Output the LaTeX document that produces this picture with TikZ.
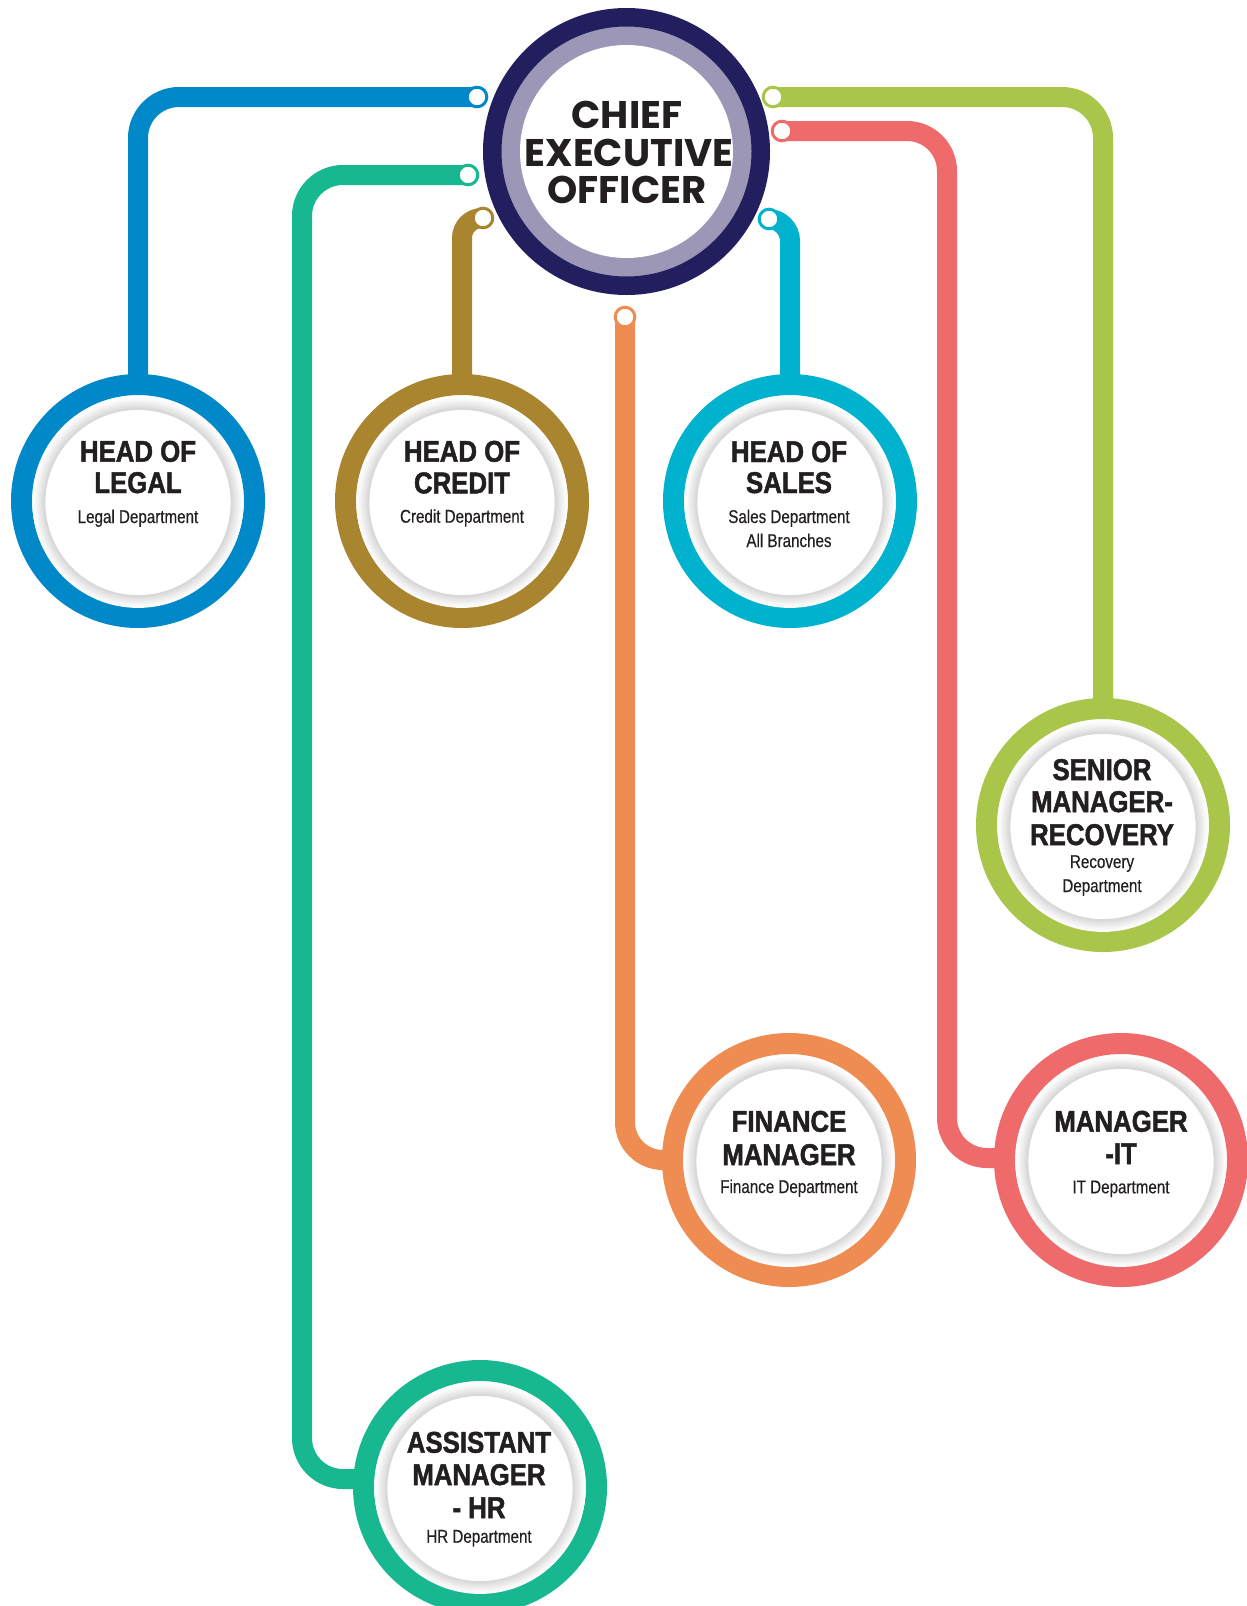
\documentclass[tikz,border=0pt]{standalone}
\usepackage{fontspec}
\newfontfamily\ceofont{Poppins}
\newfontfamily\headfont[FakeStretch=0.86, FakeBold=1.6]{Liberation Sans}
\newfontfamily\subfont[FakeStretch=0.82, FakeBold=0.4]{Liberation Sans}

\definecolor{navyring}{HTML}{231F5F}
\definecolor{lavring}{HTML}{9C97B7}
\definecolor{ink}{HTML}{231F20}
\definecolor{clegal}{HTML}{0088C8}
\definecolor{ccredit}{HTML}{AA8530}
\definecolor{csales}{HTML}{00B2CD}
\definecolor{crec}{HTML}{AAC64A}
\definecolor{cit}{HTML}{EF6A6B}
\definecolor{cfin}{HTML}{EF8C52}
\definecolor{chr}{HTML}{17B890}

% soft grey halo around the white inner disc of a department ring
\newcommand{\ringshade}[1]{%
  \foreach \k in {11,...,0}{%
    \pgfmathsetmacro{\shd}{15*(1-\k/12)^1.3}%
    \draw[line width=1.8pt, draw=black!\shd] ([yshift=-1.5pt]#1) circle[radius=93.5+\k];
  }}

\tikzset{
  conn/.style={line width=20pt, draw=#1},
  pin/.style={circle, draw=#1, line width=3pt, fill=white, minimum size=19.6pt, inner sep=0pt},
  dept/.style={circle, draw=#1, line width=21pt, fill=white, minimum size=233pt, inner sep=0pt},
  hd/.style={anchor=base, inner sep=0pt, text=ink, font=\headfont\bfseries\fontsize{30}{30}\selectfont},
  sub/.style={anchor=base, inner sep=0pt, text=ink, font=\subfont\fontsize{18.5}{18.5}\selectfont},
  ceotxt/.style={anchor=base, inner sep=0pt, text=ink, font=\ceofont\bfseries\fontsize{38.5}{38.5}\selectfont},
}

\begin{document}
\begin{tikzpicture}[x=1pt, y=-1pt]
\useasboundingbox (0,0) rectangle (1247,1606);
\fill[white] (0,0) rectangle (1247,1606);

% centres of the department rings
\coordinate (legal-c) at (138,501);
\coordinate (credit-c) at (462,501);
\coordinate (sales-c) at (790,501);
\coordinate (rec-c) at (1103,825);
\coordinate (fin-c) at (789,1160);
\coordinate (it-c) at (1121,1160);
\coordinate (hr-c) at (480,1487);

% pin positions around the CEO ring
\coordinate (c-legal) at (477,97);
\coordinate (c-hr) at (468,175);
\coordinate (c-credit) at (483,218);
\coordinate (c-sales) at (769,219);
\coordinate (c-fin) at (625,317);
\coordinate (c-it) at (782,131);
\coordinate (c-rec) at (773,97);

% bends for the two-corner connectors
\coordinate (hr-bend) at (302,1479);
\coordinate (it-bend) at (947,1158);

% connectors
\draw[conn=clegal, rounded corners=41pt] (c-legal) -| (legal-c);
\draw[conn=chr, rounded corners=41pt] (c-hr) -| (hr-bend) -- (hr-bend -| hr-c);
\draw[conn=ccredit, rounded corners=20pt] (c-credit) -| (credit-c);
\draw[conn=csales, rounded corners=22pt] (c-sales) -| (sales-c);
\draw[conn=cfin, rounded corners=38pt] (c-fin) |- (fin-c);
\draw[conn=cit, rounded corners=40pt] (c-it) -| (it-bend) -- (it-bend -| it-c);
\draw[conn=crec, rounded corners=41pt] (c-rec) -| (rec-c);

% CEO ring
\node[circle, draw=navyring, line width=18.5pt, fill=lavring, minimum size=268.5pt, inner sep=0pt] (ceo) at (626.5,151.5) {};
\fill[white] (ceo.center) circle[radius=106.5];
\node[ceotxt] (ceo-1) at (627,128.3) {CHIEF};
\node[ceotxt] (ceo-2) at (629,166.7) {EXECUTIVE};
\node[ceotxt] (ceo-3) at (627,203.3) {OFFICER};

% pins
\node[pin=clegal] (pin-legal) at (c-legal) {};
\node[pin=chr] (pin-hr) at (c-hr) {};
\node[pin=ccredit] (pin-credit) at (c-credit) {};
\node[pin=csales] (pin-sales) at (c-sales) {};
\node[pin=cfin] (pin-fin) at (c-fin) {};
\node[pin=cit] (pin-it) at (c-it) {};
\node[pin=crec] (pin-rec) at (c-rec) {};

% department rings
\node[dept=clegal] (legal) at (legal-c) {};
\node[dept=ccredit] (credit) at (credit-c) {};
\node[dept=csales] (sales) at (sales-c) {};
\node[dept=crec] (rec) at (rec-c) {};
\node[dept=cfin] (fin) at (fin-c) {};
\node[dept=cit] (it) at (it-c) {};
\node[dept=chr] (hr) at (hr-c) {};

\ringshade{legal-c}
\ringshade{credit-c}
\ringshade{sales-c}
\ringshade{rec-c}
\ringshade{fin-c}
\ringshade{it-c}
\ringshade{hr-c}

% labels
\node[hd] (legal-1) at (138,461.7) {HEAD OF};
\node[hd] (legal-2) at (138,493) {LEGAL};
\node[sub] (legal-3) at (138,523) {Legal Department};

\node[hd] (credit-1) at (462,461.7) {HEAD OF};
\node[hd] (credit-2) at (462,493.3) {CREDIT};
\node[sub] (credit-3) at (462,522.7) {Credit Department};

\node[hd] (sales-1) at (789,462) {HEAD OF};
\node[hd] (sales-2) at (789,493) {SALES};
\node[sub] (sales-3) at (789,523) {Sales Department};
\node[sub] (sales-4) at (789,547) {All Branches};

\node[hd] (rec-1) at (1102,780) {SENIOR};
\node[hd] (rec-2) at (1102,812) {MANAGER-};
\node[hd] (rec-3) at (1102,845) {RECOVERY};
\node[sub] (rec-4) at (1102,868) {Recovery};
\node[sub] (rec-5) at (1102,892) {Department};

\node[hd] (fin-1) at (789,1131.7) {FINANCE};
\node[hd] (fin-2) at (789,1165) {MANAGER};
\node[sub] (fin-3) at (789,1193) {Finance Department};

\node[hd] (it-1) at (1121,1131.7) {MANAGER};
\node[hd] (it-2) at (1121,1164) {-IT};
\node[sub] (it-3) at (1121,1193.3) {IT Department};

\node[hd] (hr-1) at (479,1452.7) {ASSISTANT};
\node[hd] (hr-2) at (479,1485) {MANAGER};
\node[hd] (hr-3) at (479,1518) {- HR};
\node[sub] (hr-4) at (479,1542.7) {HR Department};
\end{tikzpicture}
\end{document}
